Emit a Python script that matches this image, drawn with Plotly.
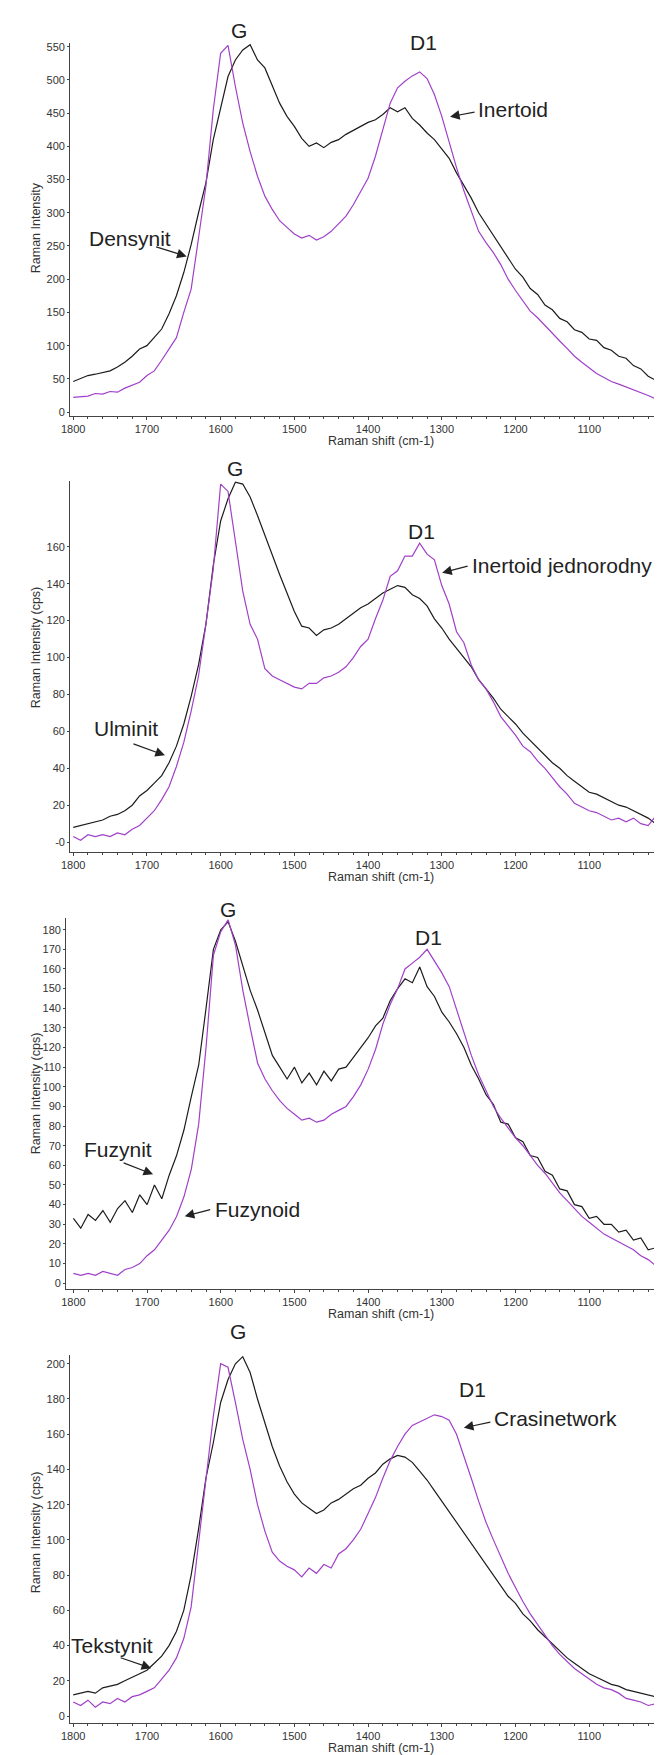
import plotly.graph_objects as go

W, H = 662, 1755

# Raman shift grid (cm-1), 1800 -> 1000
shift = list(range(1800, 999, -10))

# ---------- Panel 1 ----------
p1_densynit = [46, 50, 55, 57, 60, 62, 68, 75, 84, 95, 100, 112, 125, 148, 175, 210, 252, 300, 345, 410,
               460, 505, 530, 545, 553, 530, 518, 490, 465, 445, 430, 412, 400, 405, 398, 406, 410, 418, 424, 430,
               436, 440, 448, 458, 452, 458, 442, 432, 420, 410, 396, 382, 360, 342, 322, 300, 283, 268, 250, 232,
               215, 203, 186, 177, 161, 154, 141, 136, 124, 120, 110, 108, 97, 93, 84, 81, 70, 65, 54, 48, 37]
p1_inertoid = [22, 23, 24, 28, 27, 31, 30, 36, 40, 45, 55, 62, 78, 95, 112, 150, 185, 262, 340, 455,
               540, 552, 490, 435, 392, 355, 325, 305, 288, 278, 268, 262, 266, 259, 264, 272, 283, 295, 312, 332,
               352, 385, 425, 465, 488, 498, 506, 512, 502, 478, 445, 405, 368, 333, 302, 272, 255, 240, 222, 200,
               183, 167, 152, 142, 130, 118, 107, 96, 84, 75, 66, 58, 52, 46, 42, 38, 33, 29, 25, 20, 18]

# ---------- Panel 2 ----------
p2_ulminit = [8, 9, 10, 11, 12, 14, 15, 17, 20, 25, 28, 32, 36, 43, 52, 64, 79, 96, 118, 150,
              174, 186, 195, 194, 187, 177, 166, 155, 145, 135, 125, 117, 116, 112, 115, 116, 118, 121, 124, 127,
              129, 132, 135, 137, 139, 138, 134, 132, 128, 121, 116, 110, 105, 100, 95, 88, 83, 78, 72, 68,
              64, 59, 55, 51, 47, 43, 40, 36, 33, 30, 27, 26, 24, 22, 20, 19, 17, 15, 13, 10, 8]
p2_inertoid_jedn = [3, 1, 4, 3, 4, 3, 5, 4, 7, 9, 13, 17, 23, 30, 41, 54, 71, 90, 118, 148,
                    194, 190, 163, 136, 118, 110, 94, 90, 88, 86, 84, 83, 86, 86, 89, 90, 92, 95, 100, 106,
                    110, 121, 131, 144, 147, 155, 155, 162, 156, 153, 139, 129, 114, 108, 96, 88, 83, 76, 68, 63,
                    58, 52, 49, 44, 40, 35, 30, 26, 21, 19, 17, 16, 14, 12, 13, 11, 13, 10, 9, 14, 14]

# ---------- Panel 3 ----------
p3_fuzynit = [33, 28, 35, 32, 37, 31, 38, 42, 36, 45, 40, 50, 43, 55, 65, 78, 95, 111, 140, 170,
              180, 184, 174, 162, 149, 139, 127, 116, 110, 104, 110, 102, 107, 101, 108, 103, 109, 110, 115, 120,
              125, 131, 135, 144, 150, 155, 153, 161, 151, 146, 138, 133, 127, 120, 111, 104, 96, 91, 82, 81,
              74, 72, 65, 64, 57, 55, 48, 47, 40, 39, 33, 34, 30, 30, 26, 27, 22, 23, 17, 18, 13]
p3_fuzynoid = [5, 4, 5, 4, 6, 5, 4, 7, 8, 10, 14, 17, 22, 27, 34, 44, 58, 81, 120, 167,
               179, 185, 172, 149, 130, 112, 104, 98, 93, 89, 86, 83, 84, 82, 83, 86, 88, 90, 95, 101,
               109, 119, 132, 142, 150, 160, 163, 166, 170, 164, 158, 151, 139, 128, 116, 106, 98, 90, 84, 79,
               74, 70, 65, 60, 56, 51, 46, 42, 38, 34, 31, 28, 25, 23, 21, 19, 17, 14, 12, 9, 7]

# ---------- Panel 4 ----------
p4_tekstynit = [12, 13, 14, 13, 16, 17, 18, 20, 22, 24, 26, 30, 34, 40, 48, 60, 80, 106, 135, 155,
                178, 191, 200, 204, 195, 180, 167, 153, 142, 133, 126, 121, 118, 115, 117, 121, 123, 126, 129, 131,
                135, 138, 143, 146, 148, 147, 144, 139, 134, 128, 122, 116, 110, 104, 98, 92, 86, 80, 74, 68,
                64, 58, 54, 49, 45, 41, 37, 33, 30, 27, 24, 22, 20, 18, 17, 15, 14, 13, 12, 11, 10]
p4_crasinetwork = [8, 6, 9, 5, 8, 7, 10, 8, 11, 12, 14, 16, 21, 26, 33, 44, 62, 98, 135, 170,
                   200, 198, 178, 157, 140, 120, 105, 93, 88, 85, 83, 79, 84, 81, 86, 84, 92, 95, 100, 106,
                   115, 124, 135, 145, 153, 160, 165, 167, 169, 171, 170, 168, 160, 148, 135, 122, 110, 100, 90, 81,
                   73, 65, 58, 52, 46, 40, 35, 31, 27, 24, 21, 18, 16, 15, 13, 10, 9, 8, 6, 7, 5]

x_ticks = [1800, 1700, 1600, 1500, 1400, 1300, 1200, 1100]
y1_ticks = list(range(0, 551, 50))
y2_ticks = list(range(0, 161, 20))
y2_text = ["-0"] + [str(v) for v in y2_ticks[1:]]
y3_ticks = list(range(0, 181, 10))
y4_ticks = list(range(0, 201, 20))

BLACK = "#1c1c1c"
PURPLE = "#a040c8"
FONT = "Liberation Sans, Arial, sans-serif"
AX = "#444444"


def px(x):
    return x / W


def py(y):
    return 1 - y / H


panels = [
    # (black, purple, left_px, top_px, bottom_px, xrange, yrange, yticks, yticktext, ytitle, ytitle_y)
    (p1_densynit, p1_inertoid, 54, 33, 407, [1804, 990.4], [-6, 555.6], y1_ticks, None, "Raman Intensity", 218),
    (p2_ulminit, p2_inertoid_jedn, 54, 472, 844, [1804, 990.4], [-5.4, 195.7], y2_ticks, y2_text,
     "Raman Intensity (cps)", 639),
    (p3_fuzynit, p3_fuzynoid, 50, 910, 1282, [1809.6, 990.4], [-3, 186], y3_ticks, None,
     "Raman Intensity (cps)", 1086),
    (p4_tekstynit, p4_crasinetwork, 54, 1348, 1717, [1804, 990.4], [-4, 205], y4_ticks, None,
     "Raman Intensity (cps)", 1526),
]

fig = go.Figure()
layout = dict(
    width=W, height=H, margin=dict(l=0, r=0, t=0, b=0),
    paper_bgcolor="white", plot_bgcolor="white", showlegend=False,
    font=dict(family=FONT, color="#333333", size=11),
)
annotations = []

for i, (blk, pur, left, top, bot, xr, yr, yt, ytt, ytitle, yty) in enumerate(panels, start=1):
    xa = "x" if i == 1 else f"x{i}"
    ya = "y" if i == 1 else f"y{i}"
    fig.add_trace(go.Scatter(x=shift, y=blk, mode="lines", line=dict(color=BLACK, width=1.2),
                             xaxis=xa, yaxis=ya, hoverinfo="skip"))
    fig.add_trace(go.Scatter(x=shift, y=pur, mode="lines", line=dict(color=PURPLE, width=1.2),
                             xaxis=xa, yaxis=ya, hoverinfo="skip"))
    xkey = "xaxis" if i == 1 else f"xaxis{i}"
    ykey = "yaxis" if i == 1 else f"yaxis{i}"
    layout[xkey] = dict(
        domain=[px(left), 1.0], range=xr, anchor=ya, showgrid=False, zeroline=False,
        showline=True, linecolor=AX, linewidth=1.3, ticks="outside", ticklen=3, tickcolor=AX,
        tickvals=x_ticks, tickfont=dict(size=11, color="#333333", family=FONT),
        minor=dict(ticks="outside", ticklen=2, tickcolor=AX, dtick=20, tick0=1800),
    )
    ydict = dict(
        domain=[py(bot), py(top)], range=yr, anchor=xa, showgrid=False, zeroline=False,
        showline=True, linecolor=AX, linewidth=1.3, ticks="outside", ticklen=2, tickcolor=AX,
        tickvals=yt, tickfont=dict(size=11, color="#333333", family=FONT),
    )
    if ytt is not None:
        ydict["ticktext"] = ytt
    layout[ykey] = ydict
    annotations.append(dict(text=ytitle, x=px(19), y=py(yty), xref="paper", yref="paper",
                            textangle=-90, showarrow=False, xanchor="center", yanchor="middle",
                            font=dict(size=12.5, color="#333333", family=FONT)))
    annotations.append(dict(text="Raman shift (cm-1)", x=px(369), y=py(bot + 25), xref="paper", yref="paper",
                            showarrow=False, xanchor="center", yanchor="middle",
                            font=dict(size=12.5, color="#333333", family=FONT)))

labels = [
    ("G", 225, 20.5), ("D1", 412, 33), ("Densynit", 114.5, 229), ("Inertoid", 502.5, 100),
    ("G", 221.5, 459.5), ("D1", 410.5, 522.5), ("Inertoid jednorodny", 552.5, 557), ("Ulminit", 111, 720),
    ("G", 213.5, 901.5), ("D1", 417.5, 929.5), ("Fuzynit", 102, 1142), ("Fuzynoid", 243.5, 1202),
    ("G", 224, 1325), ("D1", 462, 1383), ("Crasinetwork", 546, 1412), ("Tekstynit", 96, 1639),
]
for txt, x, y in labels:
    annotations.append(dict(text=txt, x=px(x), y=py(y), xref="paper", yref="paper", showarrow=False,
                            xanchor="center", yanchor="middle",
                            font=dict(size=21, color="#222222", family=FONT)))

arrows = [  # head (x, y), tail (x, y) in pixels
    ((172, 247), (140, 237)),
    ((439, 107), (465, 102)),
    ((431, 564), (458, 557)),
    ((150, 747), (117, 735)),
    ((138, 1167), (107, 1155)),
    ((170, 1209), (197, 1202)),
    ((453, 1421), (481, 1415)),
    ((136, 1662), (104, 1651)),
]
for (hx, hy), (tx, ty) in arrows:
    annotations.append(dict(text="", x=px(hx), y=py(hy), xref="paper", yref="paper",
                            ax=tx - hx, ay=ty - hy, axref="pixel", ayref="pixel",
                            showarrow=True, arrowhead=2, arrowsize=1.6, arrowwidth=1.2,
                            arrowcolor="#222222", standoff=0, startstandoff=0))

layout["annotations"] = annotations
fig.update_layout(**layout)
fig.write_html("out.html")
